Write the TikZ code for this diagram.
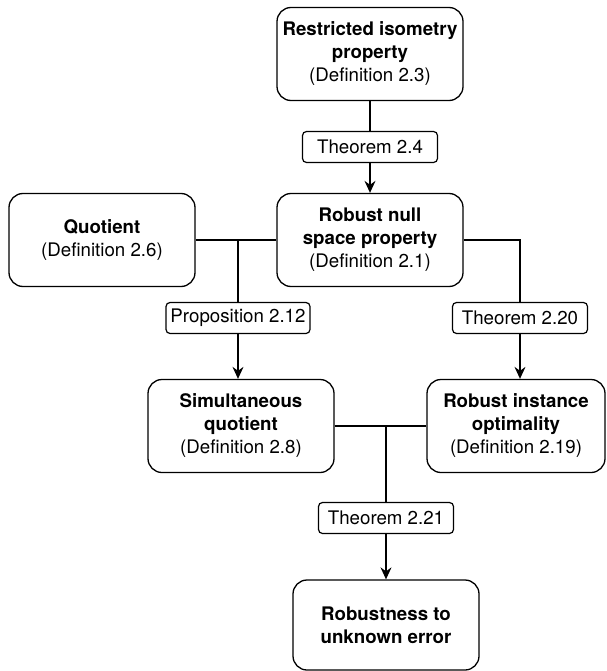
\documentclass[tikz,border=0pt]{standalone}
\usepackage{fontspec}
\setmainfont{TeX Gyre Heros}
\usetikzlibrary{arrows.meta, positioning, calc}

\begin{document}
\begin{tikzpicture}[
        x=1pt, y=1pt,
        font=\fontsize{18.7}{23}\selectfont,
        defbox/.style={rectangle, rounded corners=14pt, draw=black, line width=1.3pt,
                    minimum width=186pt, minimum height=93pt, align=center, inner sep=2pt},
        thmbox/.style={rectangle, rounded corners=4pt, draw=black, fill=white, line width=1.2pt,
                    minimum width=135pt, minimum height=31pt, align=center, inner sep=2pt},
        link/.style={line width=1.3pt},
        arrow/.style={-{Stealth[length=12pt, width=11pt, inset=4pt]}, line width=1.3pt}
    ]
    \useasboundingbox (0,0) rectangle (606,-671);

    % definitions
    \node[defbox] (rip) at (370,-54) {\textbf{Restricted isometry}\\\textbf{property}\\(Definition 2.3)};
    \node[defbox] (rnsp) at (370,-240) {\textbf{Robust null}\\\textbf{space property}\\(Definition 2.1)};
    \node[defbox] (quot) at (102,-240) {\textbf{Quotient}\\(Definition 2.6)};
    \node[defbox] (simq) at (241,-426) {\textbf{Simultaneous}\\\textbf{quotient}\\(Definition 2.8)};
    \node[defbox, minimum width=178pt] (rio) at (516,-426) {\textbf{Robust instance}\\\textbf{optimality}\\(Definition 2.19)};
    \node[defbox, minimum height=90pt] (rue) at (386,-625) {\textbf{Robustness to}\\\textbf{unknown error}};

    % results
    \node[thmbox] (thm24) at (370,-147) {Theorem 2.4};
    \node[thmbox, minimum width=144pt] (prop212) at (238,-318) {Proposition 2.12};
    \node[thmbox] (thm220) at (520,-318) {Theorem 2.20};
    \node[thmbox] (thm221) at (386,-518) {Theorem 2.21};

    % junctions
    \coordinate (jq) at (prop212 |- quot.east);
    \coordinate (jr) at (thm220 |- rnsp.east);
    \coordinate (js) at (thm221 |- simq.east);

    \draw[link] (rip) -- (thm24);
    \draw[arrow] (thm24) -- (rnsp);

    \draw[link] (quot.east) -- (rnsp.west);
    \draw[link] (jq) -- (prop212);
    \draw[arrow] (prop212) -- (prop212 |- simq.north);

    \draw[link] (rnsp.east) -- (jr) -- (thm220);
    \draw[arrow] (thm220) -- (thm220 |- rio.north);

    \draw[link] (simq.east) -- (rio.west);
    \draw[link] (js) -- (thm221);
    \draw[arrow] (thm221) -- (rue);
\end{tikzpicture}
\end{document}
